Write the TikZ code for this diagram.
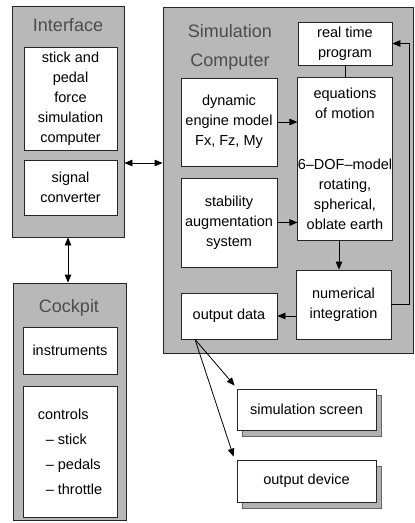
\documentclass[tikz,border=0pt]{standalone}
\usepackage{fontspec}
\setmainfont{Liberation Sans}
\usetikzlibrary{arrows.meta,shadows}

\begin{document}
\begin{tikzpicture}[x=1pt,y=-1pt,line width=0.8pt,
    every node/.style={font=\fontsize{14.5}{20}\selectfont},
    panel/.style={draw=black!85,fill=black!28},
    block/.style={draw=black!85,fill=white,align=center,inner sep=0pt},
    title/.style={font=\fontsize{18}{29}\selectfont,text=black!70,align=center},
    device/.style={block,copy shadow={shadow xshift=5pt,shadow yshift=-6pt,fill=black!30,draw=black!60}},
    >={Triangle[length=8pt,width=6.5pt]}]
    \useasboundingbox (0,0) rectangle (415,523);

    \node[panel,minimum width=112,minimum height=231](iface)at(68,121.5){};
    \node[title](ifacetitle)at(68,25){Interface};
    \node[block,minimum width=93,minimum height=103](force)at(70.5,98.5){stick and\\pedal\\force\\simulation\\computer};
    \node[block,minimum width=93,minimum height=55](signal)at(70.5,187.5){signal\\converter};

    \node[panel,minimum width=113,minimum height=237](cockpit)at(69.5,401.5){};
    \node[title](cockpittitle)at(69,308){Cockpit};
    \node[block,minimum width=94,minimum height=47](instr)at(70,350.5){instruments};
    \node[block,minimum width=94,minimum height=131,align=left,font=\fontsize{14.5}{25}\selectfont](controls)at(70,451.5){controls\\\ \ -- stick\\\ \ -- pedals\\\ \ -- throttle};

    \node[panel,minimum width=250,minimum height=346](sim)at(288,180){};
    \node[title](simtitle)at(230,47){Simulation\\Computer};
    \node[block,minimum width=94,minimum height=43](rtp)at(345,43.5){real time\\program};
    \node[block,minimum width=96,minimum height=88](engine)at(229,122){dynamic\\engine model\\Fx, Fz, My};
    \node[block,minimum width=94,minimum height=163](eom)at(345,158.5){equations\\of motion\\[31pt]6--DOF--model\\rotating,\\spherical,\\oblate earth};
    \node[block,minimum width=96,minimum height=89](sas)at(229,222.5){stability\\augmentation\\system};
    \node[block,minimum width=95,minimum height=69](num)at(343.5,304.5){numerical\\integration};
    \node[block,minimum width=96,minimum height=46](out)at(229,316){output data};

    \node[device,minimum width=139,minimum height=41](screen)at(306.5,409.5){simulation screen};
    \node[device,minimum width=139,minimum height=42](printer)at(306.5,481){output device};

    \draw[<->](iface.east|-0,163)--(sim.west|-0,163);
    \draw[<->](iface.south)--(iface.south|-cockpit.north);
    \draw[->](engine.east)--(engine.east-|eom.west);
    \draw[->](sas.east)--(sas.east-|eom.west);
    \draw(rtp.south)--(eom.north);
    \draw[->]([xshift=-6pt]eom.south)--([xshift=-6pt]eom.south|-num.north);
    \draw[->](out.east-|num.west)--(out.east);
    \draw[->](num.east)--++(18,0)|-(rtp.east);
    \draw[->]([xshift=-34pt]out.south)--([xshift=-2pt,yshift=3pt]screen.north west);
    \draw[->]([xshift=-34pt]out.south)--([xshift=-3pt,yshift=3pt]printer.north west);
\end{tikzpicture}
\end{document}
